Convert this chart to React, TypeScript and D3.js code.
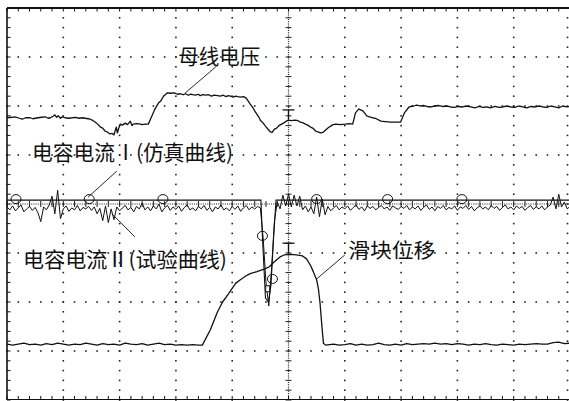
import React from "react";
import * as d3 from "d3";

const W = 569;
const H = 401;

// Time axis: 0..100 ms (10 ms / div); amplitudes in screen divisions (-4..4)
const timeDomain: [number, number] = [0, 100];
const divDomain: [number, number] = [-4, 4];

// 母线电压 (bus voltage) [t, div]
const busVoltage: [number, number][] = [
  [0, 1.76], [0.9, 1.77], [1.4, 1.78], [2.2, 1.75], [2.7, 1.73], [3.3, 1.76], [4.1, 1.76], [4.6, 1.74],
  [5.5, 1.76], [6.2, 1.77], [6.8, 1.78], [7.3, 1.75], [7.7, 1.76], [8.2, 1.79], [8.5, 1.82], [8.8, 1.77],
  [9.1, 1.8], [9.5, 1.75], [9.8, 1.78], [10.3, 1.76], [10.9, 1.75], [11.6, 1.76], [12.1, 1.77], [12.8, 1.75],
  [13.4, 1.76], [13.9, 1.75], [14.4, 1.74], [14.8, 1.73], [15.3, 1.7], [15.7, 1.67], [16.1, 1.63], [16.6, 1.57],
  [17.0, 1.55], [17.4, 1.49], [17.8, 1.47], [18.3, 1.43], [18.7, 1.44], [19.0, 1.41], [19.4, 1.57], [19.6, 1.45],
  [19.8, 1.53], [20.1, 1.63], [20.5, 1.61], [21.0, 1.65], [21.4, 1.62], [21.9, 1.69], [22.2, 1.6], [22.4, 1.63],
  [23.1, 1.64], [23.7, 1.63], [24.0, 1.62], [24.5, 1.63], [25.1, 1.63], [25.6, 1.76], [26.2, 1.92], [26.9, 2.06],
  [27.3, 2.1], [27.8, 2.2], [28.5, 2.27], [29.0, 2.26], [29.4, 2.27], [29.9, 2.26], [30.3, 2.24], [30.8, 2.25],
  [31.3, 2.23], [31.7, 2.25], [32.2, 2.22], [32.6, 2.24], [33.0, 2.23], [33.5, 2.22], [34.0, 2.24], [34.3, 2.21],
  [34.8, 2.23], [35.3, 2.22], [35.8, 2.23], [36.3, 2.2], [36.8, 2.22], [37.4, 2.21], [37.9, 2.2], [38.4, 2.22],
  [38.9, 2.19], [39.3, 2.21], [39.7, 2.2], [40.2, 2.18], [40.6, 2.2], [41.0, 2.19], [41.5, 2.18], [42.0, 2.19],
  [42.5, 2.16], [43.2, 2.04], [43.7, 1.96], [44.1, 1.88], [44.7, 1.78], [45.0, 1.71], [45.5, 1.65], [45.9, 1.59],
  [46.4, 1.52], [46.8, 1.47], [47.1, 1.46], [47.5, 1.53], [47.9, 1.55], [48.2, 1.59], [48.6, 1.62], [49.1, 1.65],
  [49.6, 1.69], [50.0, 1.71], [50.4, 1.7], [51.2, 1.71], [51.7, 1.7], [52.1, 1.67], [52.5, 1.66], [53.0, 1.63],
  [53.4, 1.61], [53.9, 1.57], [54.3, 1.55], [54.8, 1.49], [55.2, 1.47], [55.7, 1.45], [56.1, 1.46], [56.6, 1.51],
  [57.0, 1.55], [57.5, 1.59], [57.9, 1.62], [58.4, 1.63], [59.2, 1.62], [60.1, 1.63], [60.8, 1.64], [61.4, 1.63],
  [61.9, 1.86], [62.5, 1.94], [62.8, 1.92], [63.2, 1.9], [63.5, 1.86], [63.9, 1.8], [64.4, 1.78], [65.0, 1.76],
  [65.6, 1.74], [66.4, 1.69], [67.2, 1.68], [68.2, 1.67], [69.0, 1.67], [69.9, 1.67], [70.6, 1.86], [71.4, 1.98],
  [72.2, 2.0], [72.8, 2.02], [73.4, 2.0], [74.0, 2.01], [74.6, 1.99], [75.3, 1.98], [76.0, 2.0], [76.7, 2.01],
  [77.4, 1.99], [78.1, 2.0], [78.8, 1.98], [79.5, 1.97], [80.2, 1.99], [80.9, 1.98], [81.6, 2.0], [82.4, 1.98],
  [83.1, 1.96], [83.8, 1.99], [84.5, 1.97], [85.2, 1.98], [85.9, 1.96], [86.7, 1.99], [87.4, 1.97], [88.1, 1.98],
  [88.8, 2.0], [89.5, 1.98], [90.2, 1.97], [90.9, 2.0], [91.6, 1.98], [92.3, 1.96], [93.1, 1.99], [93.8, 1.98],
  [94.5, 2.0], [95.2, 1.98], [95.9, 1.97], [96.6, 2.0], [97.3, 1.98], [98.0, 1.96], [98.7, 2.0], [99.4, 1.98],
  [100, 1.99],
];

// 滑块位移 (slider displacement) [t, div]
const sliderDisplacement: [number, number][] = [
  [0, -2.86], [1, -2.88], [2, -2.86], [3, -2.84], [4, -2.87], [5, -2.86], [6, -2.88], [7, -2.85], [8, -2.87],
  [9, -2.84], [10, -2.86], [11, -2.88], [12, -2.86], [13, -2.87], [14, -2.84], [15, -2.86], [16, -2.88],
  [17, -2.85], [18, -2.87], [19, -2.86], [20, -2.88], [21, -2.84], [22, -2.86], [23, -2.87], [24, -2.85],
  [25, -2.88], [26, -2.86], [27, -2.84], [28, -2.87], [29, -2.86], [30, -2.88], [31, -2.87], [32, -2.88],
  [33, -2.87], [34, -2.88], [34.7, -2.88],
  [36.1, -2.57], [37.4, -2.2], [38.3, -2.0], [39.3, -1.84], [40.0, -1.72], [40.6, -1.62], [41.4, -1.55],
  [42.4, -1.47], [43.2, -1.42], [44.4, -1.38], [45.9, -1.32], [46.6, -1.28], [47.3, -1.2], [47.9, -1.14],
  [48.5, -1.08], [49.2, -1.04], [50.4, -1.03], [51.4, -1.04], [52.5, -1.06], [53.2, -1.12], [53.9, -1.25],
  [54.4, -1.38], [55.0, -1.55], [55.3, -1.72], [55.6, -2.02], [55.9, -2.45], [56.2, -2.84], [56.6, -2.88],
  [58, -2.86], [59, -2.88], [60, -2.87], [61, -2.85], [62, -2.88], [63, -2.86], [64, -2.88], [65, -2.87],
  [66, -2.84], [67, -2.87], [68, -2.88], [69, -2.86], [70, -2.88], [71, -2.85], [72, -2.87], [73, -2.86],
  [74, -2.85], [75, -2.86], [76, -2.84], [77, -2.86], [78, -2.85], [79, -2.87], [80, -2.85], [81, -2.86],
  [82, -2.88], [83, -2.86], [84, -2.87], [85, -2.85], [86, -2.87], [87, -2.88], [88, -2.86], [89, -2.87],
  [90, -2.88], [91, -2.86], [92, -2.87], [93, -2.86], [94, -2.85], [95, -2.86], [96, -2.86], [97, -2.83],
  [98, -2.82], [99, -2.85], [100, -2.84],
];

// 电容电流Ⅰ (仿真曲线) simulated capacitor current [t, div]
const currentSim: [number, number][] = [
  [0, 0.08], [45.1, 0.08], [45.37, -0.67], [45.91, -1.92], [46.44, -2.0], [46.89, -1.65],
  [47.33, -0.73], [47.78, 0.08], [100, 0.08],
];
// circle markers on the simulated curve [t, div]
const simMarkers: [number, number][] = [
  [1.6, 0.08], [14.6, 0.08], [27.7, 0.08], [45.37, -0.67], [47.15, -1.55], [55.0, 0.08], [67.6, 0.08], [80.8, 0.08],
];

// 电容电流Ⅱ (试验曲线) measured capacitor current, sampled every 0.5 ms [div]
const currentTestStep = 0.5;
const currentTest: number[] = [
  -0.06, -0.12, -0.04, -0.14, -0.08, -0.02, -0.16, -0.1, -0.05, -0.13,
  -0.07, -0.18, -0.36, -0.06, -0.12, -0.02, 0.16, -0.2, 0.28, -0.3,
  -0.1, -0.04, -0.15, -0.08, -0.12, -0.03, -0.14, -0.07, -0.1, -0.05,
  -0.13, -0.06, -0.2, -0.09, -0.34, -0.04, -0.38, -0.1, -0.32, -0.06,
  -0.14, -0.08, -0.03, -0.12, -0.07, -0.16, -0.05, -0.1, 0.02, -0.12,
  -0.06, -0.14, -0.04, -0.1, 0.0, -0.16, -0.08, -0.03, -0.13, -0.06,
  -0.11, -0.04, -0.15, -0.07, -0.02, -0.12, -0.08, -0.14, -0.05, -0.1,
  -0.03, -0.13, -0.07, -0.16, -0.06, -0.1, -0.02, -0.12, -0.08, -0.14,
  -0.05, -0.11, -0.04, -0.15, -0.08, -0.03, -0.12, -0.06, -0.1, -0.05,
  -0.08, -0.7, -1.6, -2.08, -1.3, -0.35, 0.04, -0.1, 0.18, -0.04,
  0.2, -0.06, 0.18, -0.04, 0.16,
  -0.12, -0.04, -0.16, -0.06, -0.2,
  0.14, -0.26, 0.1, -0.22, -0.05, -0.14, -0.08, -0.03, -0.12, -0.06,
  -0.1, -0.04, -0.13, -0.07, -0.02, -0.11, -0.06, -0.14, -0.04, -0.09,
  -0.05, -0.12, -0.07, -0.03, -0.1, -0.06, -0.13, -0.04, -0.08, -0.11,
  -0.05, -0.09, -0.03, -0.12, -0.06, -0.1, -0.04, -0.13, -0.07, -0.02,
  -0.11, -0.06, -0.14, -0.05, -0.09, -0.03, -0.12, -0.07, -0.1, -0.04,
  -0.13, -0.06, -0.09, -0.03, -0.11, -0.05, -0.14, -0.08, -0.04, -0.1,
  -0.06, -0.12, -0.03, -0.09, -0.05, -0.13, -0.07, -0.02, -0.1, -0.06,
  -0.12, -0.04, -0.09, -0.05, -0.13, -0.07, -0.03, -0.11, -0.06, -0.1,
  -0.04, -0.12, -0.06, -0.02, 0.14, -0.1, 0.2, -0.06, 0.04, -0.1, -0.05,
];
const testMarkers: [number, number][] = [[46.3, -1.73]];

// cursor "⊤" marks on the centre vertical axis [div]
const cursorLevels: number[] = [1.92, -0.8];

// annotations: text, anchor [t, div], leader line from/to [t, div]
const annotations = [
  { text: "母线电压", at: [30.4, 2.86], width: 82, size: 21, leader: [[37.1, 2.8], [31.6, 2.26]] },
  { text: "电容电流Ⅰ(仿真曲线)", at: [4.45, 0.9], width: 201, size: 21, leader: [[19.5, 0.67], [14.4, 0.14]] },
  { text: "电容电流Ⅱ(试验曲线)", at: [2.84, -1.29], width: 204, size: 21, leader: [[22.7, -0.67], [18.65, -0.2]] },
  { text: "滑块位移", at: [60.6, -1.1], width: 87, size: 20, leader: [[60.0, -1.04], [55.0, -1.53]] },
];

export default function App() {
  const x = d3.scaleLinear().domain(timeDomain).range([7, 570]);
  const y = d3.scaleLinear().domain(divDomain).range([400, 8]);
  const line = d3
    .line<[number, number]>()
    .x((d) => x(d[0]))
    .y((d) => y(d[1]));

  const testPts: [number, number][] = currentTest.map((v, i) => [i * currentTestStep, v]);

  const majorT = d3.range(0, 11).map((i) => i * 10);
  const majorV = d3.range(-4, 5);
  const minorT = d3.range(0, 51).map((k) => k * 2);
  const minorV = d3.range(0, 41).map((k) => -4 + k * 0.2);

  const ink = "#111";
  const dots: JSX.Element[] = [];
  majorT.forEach((t, i) => {
    if (i === 0 || i === 5) return;
    const xt = i === 10 ? x(t) - 2.5 : x(t);
    minorV.forEach((v, k) =>
      dots.push(<rect key={`vd${i}-${k}`} x={xt - 0.8} y={y(v) - 0.8} width={1.6} height={1.6} fill="#222" />)
    );
  });
  majorV.forEach((v, j) => {
    if (v === -4 || v === 4 || v === 0) return;
    minorT.forEach((t, k) =>
      dots.push(<rect key={`hd${j}-${k}`} x={x(t) - 0.8} y={y(v) - 0.8} width={1.6} height={1.6} fill="#222" />)
    );
  });

  const cx = x(50);
  const cy = y(0);
  const stem = y(0) - y(0.2);

  return (
    <svg
      width={W}
      height={H}
      viewBox={`0 0 ${W} ${H}`}
      style={{ position: "absolute", left: 0, top: 0, display: "block", background: "#fff" }}
    >
      <rect x={0} y={0} width={W} height={H} fill="#fff" />
      {/* graticule dots */}
      {dots}
      {/* centre axes */}
      <line x1={cx} x2={cx} y1={y(4)} y2={y(-4)} stroke="#222" strokeWidth={1.2} strokeDasharray="1 1.2" />
      <line x1={x(0)} x2={x(100)} y1={cy} y2={cy} stroke="#222" strokeWidth={1.2} strokeDasharray="1 1.2" />
      {minorV.map((v, k) => (
        <line key={`cvt${k}`} x1={cx - 3} x2={cx + 3} y1={y(v)} y2={y(v)} stroke="#222" strokeWidth={1} />
      ))}
      {minorT.map((t, k) => (
        <line key={`cht${k}`} x1={x(t)} x2={x(t)} y1={cy - 3} y2={cy + 3} stroke="#222" strokeWidth={1} />
      ))}
      {/* border */}
      <line x1={x(0)} x2={x(100)} y1={y(4)} y2={y(4)} stroke={ink} strokeWidth={2.2} />
      <line x1={x(0)} x2={x(0)} y1={y(4)} y2={y(-4)} stroke={ink} strokeWidth={1.6} />
      <line x1={x(0)} x2={x(100)} y1={y(-4) - 0.5} y2={y(-4) - 0.5} stroke={ink} strokeWidth={1.2} />
      {minorT.map((t, k) => (
        <g key={`bt${k}`}>
          <line x1={x(t)} x2={x(t)} y1={y(4)} y2={y(4) + 3.5} stroke={ink} strokeWidth={1} />
          <line x1={x(t)} x2={x(t)} y1={y(-4)} y2={y(-4) - 4} stroke={ink} strokeWidth={1} />
        </g>
      ))}
      {minorV.map((v, k) => (
        <line key={`bl${k}`} x1={x(0)} x2={x(0) + 3.5} y1={y(v)} y2={y(v)} stroke={ink} strokeWidth={1} />
      ))}

      {/* traces */}
      <path d={line(sliderDisplacement) || ""} fill="none" stroke={ink} strokeWidth={1.3} strokeLinejoin="round" />
      <path d={line(busVoltage) || ""} fill="none" stroke={ink} strokeWidth={1.3} strokeLinejoin="round" />
      <path d={line(testPts) || ""} fill="none" stroke={ink} strokeWidth={1} strokeLinejoin="round" />
      <path d={line(currentSim) || ""} fill="none" stroke={ink} strokeWidth={1.1} />
      {simMarkers.map((d, i) => (
        <ellipse key={`sm${i}`} cx={x(d[0])} cy={y(d[1]) - 1} rx={5} ry={4.5} fill="none" stroke={ink} strokeWidth={1} />
      ))}
      {testMarkers.map((d, i) => (
        <rect key={`tm${i}`} x={x(d[0]) - 2} y={y(d[1]) - 3} width={4} height={6} fill="#fff" stroke={ink} strokeWidth={1} />
      ))}
      {cursorLevels.map((v, i) => (
        <g key={`cur${i}`}>
          <line x1={cx - 6} x2={cx + 6} y1={y(v)} y2={y(v)} stroke={ink} strokeWidth={1.3} />
          <line x1={cx} x2={cx} y1={y(v)} y2={y(v) + stem} stroke={ink} strokeWidth={1.3} />
        </g>
      ))}

      {/* annotations */}
      {annotations.map((a, i) => (
        <g key={`an${i}`}>
          <line
            x1={x(a.leader[0][0])}
            y1={y(a.leader[0][1])}
            x2={x(a.leader[1][0])}
            y2={y(a.leader[1][1])}
            stroke={ink}
            strokeWidth={0.9}
          />
          <text
            x={x(a.at[0])}
            y={y(a.at[1])}
            fontFamily="'Noto Sans CJK SC', sans-serif"
            fontSize={a.size}
            textLength={a.width}
            lengthAdjust="spacingAndGlyphs"
            fill={ink}
          >
            {a.text}
          </text>
        </g>
      ))}
    </svg>
  );
}
